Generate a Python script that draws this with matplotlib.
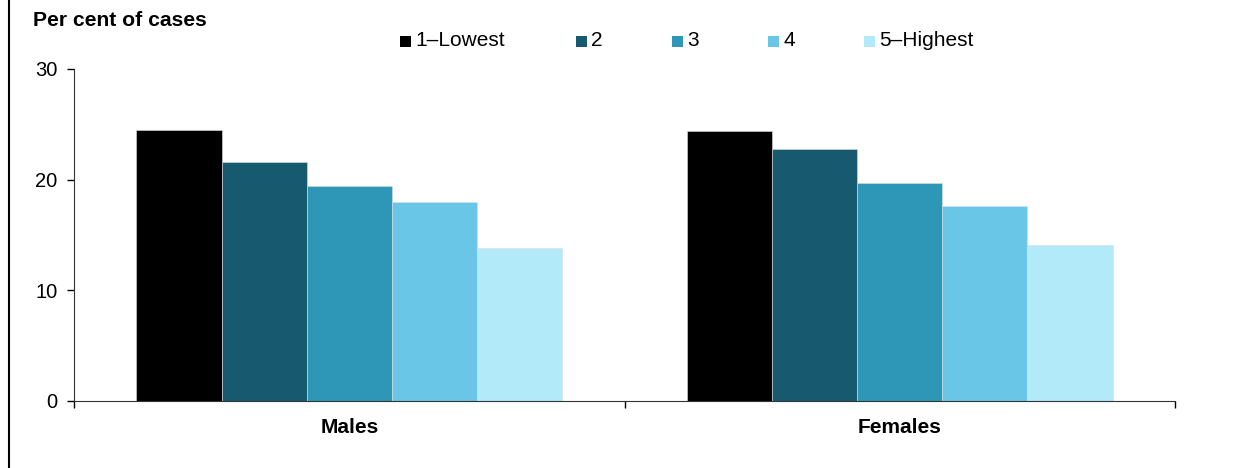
import matplotlib
matplotlib.use("Agg")
import matplotlib.pyplot as plt
import numpy as np
from matplotlib.lines import Line2D
from matplotlib.patches import Rectangle

plt.rcParams['font.family'] = ['Liberation Sans', 'DejaVu Sans']

categories = ["Males", "Females"]
series_names = ["1\u2013Lowest", "2", "3", "4", "5\u2013Highest"]
values = {
    "1\u2013Lowest": [24.5, 24.4],
    "2": [21.6, 22.8],
    "3": [19.4, 19.7],
    "4": [18.0, 17.6],
    "5\u2013Highest": [13.8, 14.1],
}
colors = ["#000000", "#175a70", "#2e97b8", "#69c6e6", "#b3eafa"]

W, H = 1247, 468
fig = plt.figure(figsize=(W/100, H/100), dpi=100)
ax = fig.add_axes([74/W, 1 - 401/H, (1175-74)/W, (401-69)/H])

x = np.arange(len(categories))
n = len(series_names)
bw = 0.773 / n
for i, (name, c) in enumerate(zip(series_names, colors)):
    ax.bar(x + (i - (n-1)/2) * bw, values[name], width=bw, color=c,
           edgecolor="#dddddd", linewidth=0.4, label=name)

ax.set_xlim(-0.5, 1.5)
ax.set_ylim(0, 30)
ax.set_yticks([0, 10, 20, 30])
ax.tick_params(axis='y', direction='out', length=5, labelsize=14.5, pad=7, width=1)
ax.set_xticks([-0.5, 0.5, 1.5])
ax.set_xticklabels([])
ax.set_xticks(x, minor=True)
ax.set_xticklabels(categories, minor=True, fontweight='bold', fontsize=15)
ax.tick_params(axis='x', which='major', direction='out', length=5, width=1)
ax.tick_params(axis='x', which='minor', length=0, pad=12)
for s in ['top', 'right']:
    ax.spines[s].set_visible(False)
ax.spines['left'].set_color('#333333')
ax.spines['bottom'].set_color('#333333')

fig.text(33/W, 1 - 21/H, "Per cent of cases", fontweight='bold', fontsize=15.2,
         ha='left', va='center')

# manual legend
leg_x = [400, 576, 672, 768, 864]
sq = 11
for lx, name, c in zip(leg_x, series_names, colors):
    fig.add_artist(Rectangle((lx/W, 1 - (41.5 + sq/2)/H), sq/W, sq/H,
                             facecolor=c, edgecolor='none', transform=fig.transFigure))
    fig.text((lx + sq + 4)/W, 1 - 41/H, name, fontsize=15, ha='left', va='center')

fig.add_artist(Line2D([9/W, 9/W], [0, 1], color='black', linewidth=1.5,
                      transform=fig.transFigure))

fig.savefig("out.png", dpi=100)
